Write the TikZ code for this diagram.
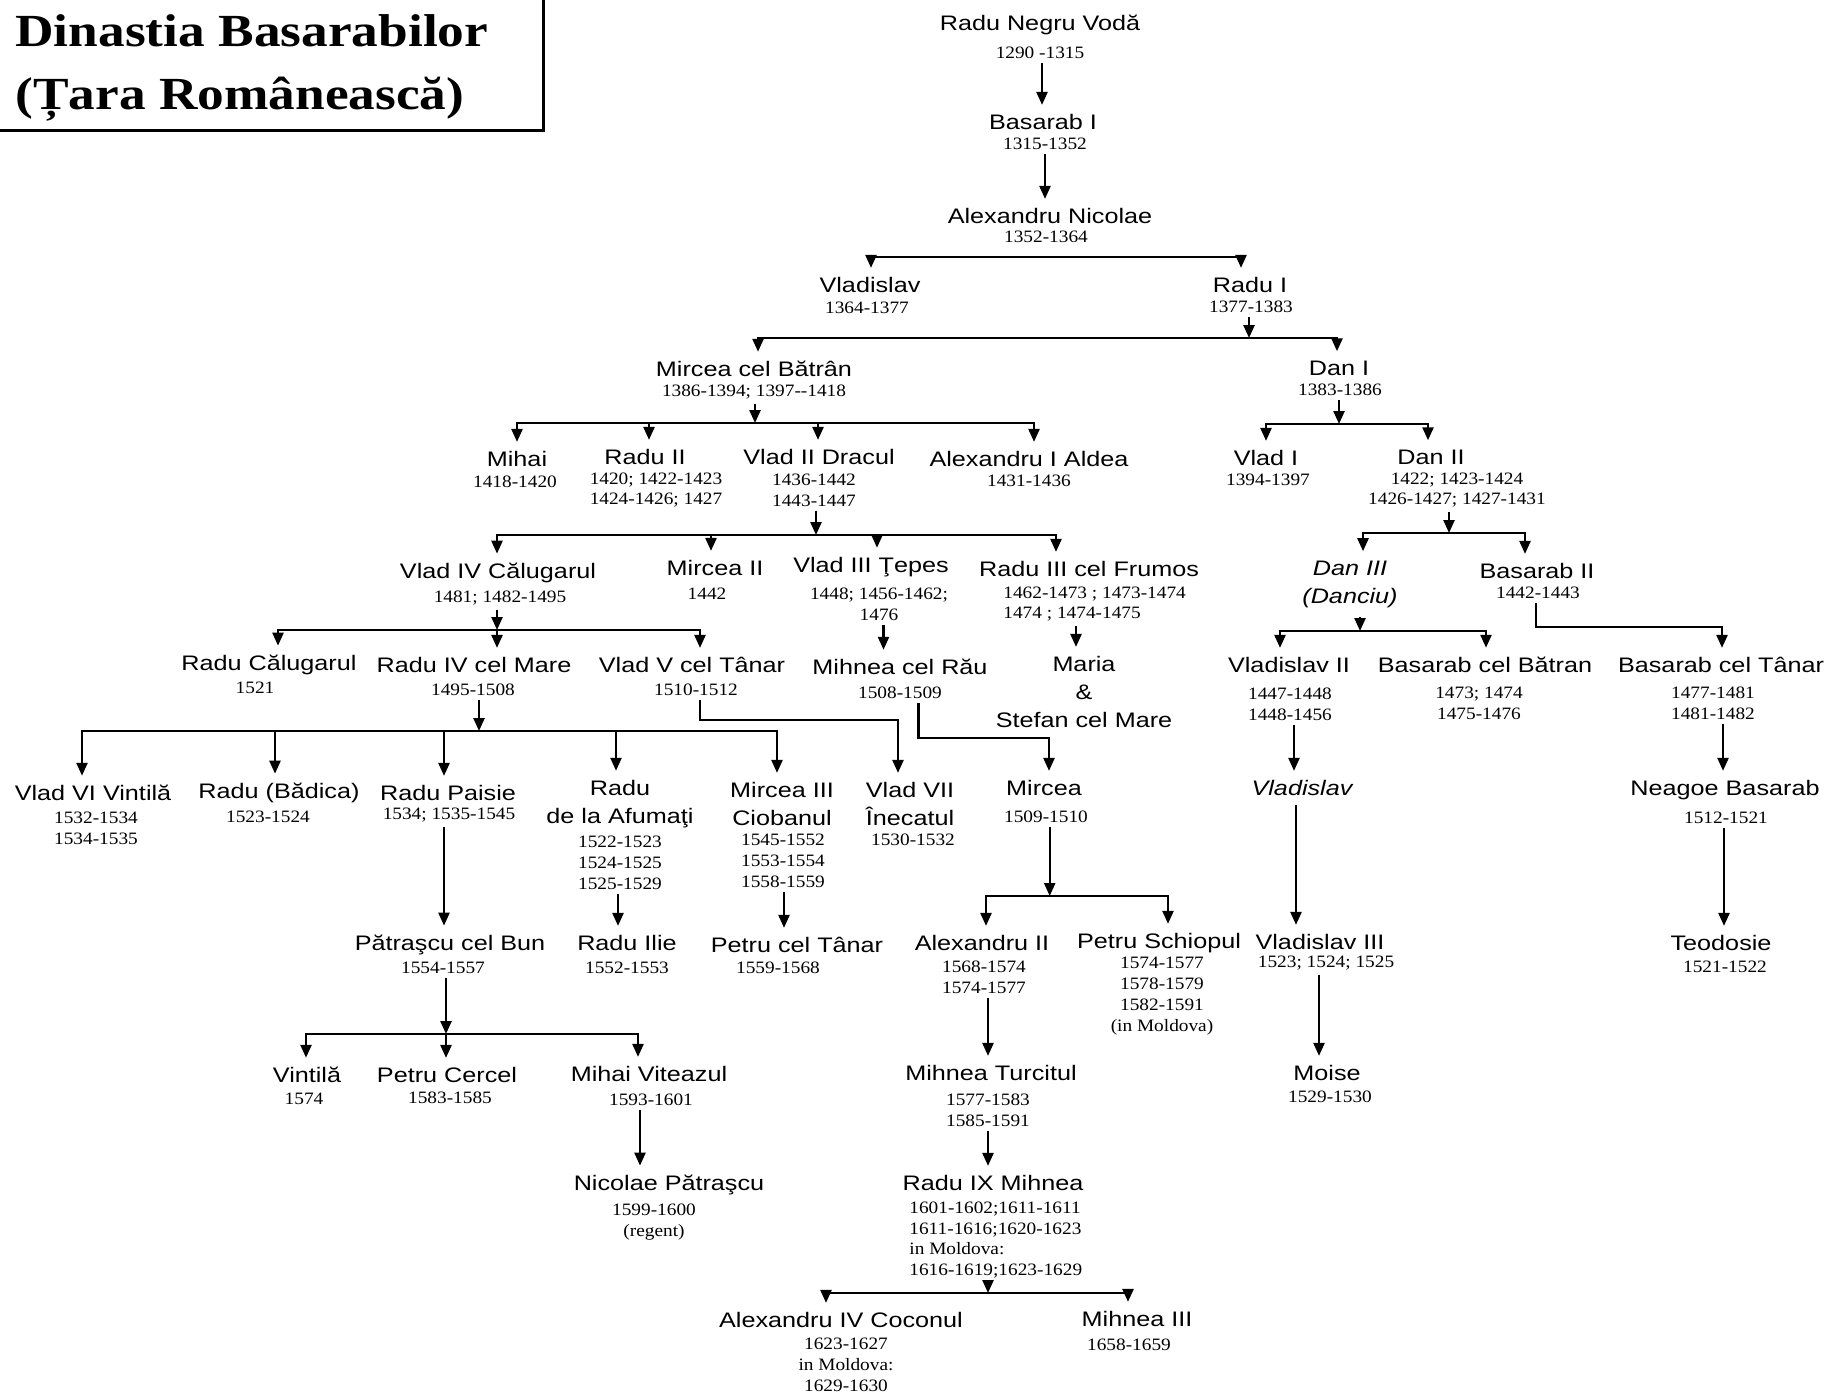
\documentclass[tikz,border=0pt]{standalone}
\usepackage{fontspec}
\usetikzlibrary{arrows.meta}
\newfontfamily\rsNmFam[FakeStretch=1.2]{Liberation Sans}
\newfontfamily\rsDtFam[FakeStretch=1.11]{Liberation Serif}
\newfontfamily\rsTtFam[FakeStretch=1.16]{Liberation Serif}
\newcommand\rsNm{\rsNmFam\fontsize{10.5}{14}\selectfont}
\newcommand\rsDt{\rsDtFam\fontsize{8.7}{10.4}\selectfont}
\newcommand\rsTt{\rsTtFam\bfseries\fontsize{23}{27}\selectfont}
\begin{document}
\begin{tikzpicture}[x=0.5pt,y=-0.5pt,
  nm/.style={font=\rsNm, inner xsep=1pt, inner ysep=4.5pt, align=center},
  nmi/.style={font=\rsNm\itshape, inner xsep=1pt, inner ysep=4.5pt, align=center},
  dt/.style={font=\rsDt, inner xsep=1pt, inner ysep=2pt, align=center},
  ttl/.style={font=\rsTt, inner sep=0pt, anchor=base west},
  ln/.style={line width=1.2pt, line cap=rect},
  ar/.style={line width=1.2pt, -{Triangle[length=6.5pt,width=5.5pt]}}]
\useasboundingbox (0,0) rectangle (1830,1393);
\fill[white] (0,0) rectangle (1830,1393);
\clip (0,0) rectangle (1830,1393);

% title
\draw[line width=1.5pt] (-10,-10) rectangle (543,130);
\node[ttl] (t1) at (15,46) {Dinastia Basarabilor};
\node[ttl] (t2) at (15,109) {(Țara Românească)};

% persons
\node[nm] (n1) at (1040,25) {Radu Negru Vodă};
\node[dt] (d1) at (1040,53) {1290 -1315};
\node[nm] (n2) at (1043,122) {Basarab I};
\node[dt] (d2) at (1045,144) {1315-1352};
\node[nm] (n3) at (1050,216) {Alexandru Nicolae};
\node[dt] (d3) at (1046,237) {1352-1364};
\node[nm] (n4) at (870,285) {Vladislav};
\node[dt] (d4) at (867,308) {1364-1377};
\node[nm] (n5) at (1250,285) {Radu I};
\node[dt] (d5) at (1251,307) {1377-1383};
\node[nm] (n6) at (754,369) {Mircea cel Bătrân};
\node[dt] (d6) at (754,392) {1386-1394; 1397-{}-1418};
\node[nm] (n7) at (1339,368) {Dan I};
\node[dt] (d7) at (1340,390) {1383-1386};
\node[nm] (n8) at (517,459) {Mihai};
\node[dt] (d8) at (515,482) {1418-1420};
\node[nm] (n9) at (645,457) {Radu II};
\node[dt] (d9) at (656,490) {1420; 1422-1423\\1424-1426; 1427};
\node[nm] (n10) at (819,457) {Vlad II Dracul};
\node[dt] (d10) at (814,490) {1436-1442\\1443-1447};
\node[nm] (n11) at (1029,459) {Alexandru I Aldea};
\node[dt] (d11) at (1029,481) {1431-1436};
\node[nm] (n12) at (1266,458) {Vlad I};
\node[dt] (d12) at (1268,480) {1394-1397};
\node[nm] (n13) at (1431,457) {Dan II};
\node[dt] (d13) at (1457,490) {1422; 1423-1424\\1426-1427; 1427-1431};

\node[nm] (n14) at (498,573) {Vlad IV Călugarul};
\node[dt] (d14) at (500,598) {1481; 1482-1495};
\node[nm] (n15) at (715,568) {Mircea II};
\node[dt] (d15) at (707,594) {1442};
\node[nm] (n16) at (871,567) {Vlad III Ţepes};
\node[dt] (d16) at (879,604) {1448; 1456-1462;\\1476};
\node[nm] (n17) at (1089,569) {Radu III cel Frumos};
\node[dt, anchor=west, align=left] (d17) at (1001,604) {1462-1473 ; 1473-1474\\1474 ; 1474-1475};
\node[nmi] (n18) at (1350,584) {Dan III\\(Danciu)};
\node[nm] (n19) at (1537,571) {Basarab II};
\node[dt] (d19) at (1538,593) {1442-1443};

\node[nm] (n20) at (269,665) {Radu Călugarul};
\node[dt] (d20) at (255,688) {1521};
\node[nm] (n21) at (474,665) {Radu IV cel Mare};
\node[dt] (d21) at (473,690) {1495-1508};
\node[nm] (n22) at (692,665) {Vlad V cel Tânar};
\node[dt] (d22) at (696,690) {1510-1512};
\node[nm] (n23) at (900,667) {Mihnea cel Rău};
\node[dt] (d23) at (900,693) {1508-1509};
\node[nm] (n24) at (1084,692) {Maria\\\&\\Stefan cel Mare};
\node[nm] (n25) at (1289,665) {Vladislav II};
\node[dt] (d25) at (1290,704) {1447-1448\\1448-1456};
\node[nm] (n26) at (1485,665) {Basarab cel Bătran};
\node[dt] (d26) at (1479,703) {1473; 1474\\1475-1476};
\node[nm] (n27) at (1721,665) {Basarab cel Tânar};
\node[dt] (d27) at (1713,703) {1477-1481\\1481-1482};

\node[nm] (n28) at (93,793) {Vlad VI Vintilă};
\node[dt] (d28) at (96,828) {1532-1534\\1534-1535};
\node[nm] (n29) at (279,793) {Radu (Bădica)};
\node[dt] (d29) at (268,817) {1523-1524};
\node[nm] (n30) at (448,793) {Radu Paisie};
\node[dt] (d30) at (449,815) {1534; 1535-1545};
\node[nm] (n31) at (620,804) {Radu\\de la Afumaţi};
\node[dt] (d31) at (620,863) {1522-1523\\1524-1525\\1525-1529};
\node[nm] (n32) at (782,804) {Mircea III\\Ciobanul};
\node[dt] (d32) at (783,861) {1545-1552\\1553-1554\\1558-1559};
\node[nm] (n33) at (910,804) {Vlad VII\\Înecatul};
\node[dt] (d33) at (913,840) {1530-1532};
\node[nm] (n34) at (1044,788) {Mircea};
\node[dt] (d34) at (1046,817) {1509-1510};
\node[nmi] (n35) at (1302,788) {Vladislav};
\node[nm] (n36) at (1725,790) {Neagoe Basarab};
\node[dt] (d36) at (1726,818) {1512-1521};

\node[nm] (n37) at (450,945) {Pătraşcu cel Bun};
\node[dt] (d37) at (443,968) {1554-1557};
\node[nm] (n38) at (627,943) {Radu Ilie};
\node[dt] (d38) at (627,968) {1552-1553};
\node[nm] (n39) at (797,945) {Petru cel Tânar};
\node[dt] (d39) at (778,968) {1559-1568};
\node[nm] (n40) at (982,943) {Alexandru II};
\node[dt] (d40) at (984,977) {1568-1574\\1574-1577};
\node[nm] (n41) at (1159,943) {Petru Schiopul};
\node[dt] (d41) at (1162,996) {1574-1577\\1578-1579\\1582-1591\\(in Moldova)};
\node[nm] (n42) at (1320,942) {Vladislav III};
\node[dt] (d42) at (1326,963) {1523; 1524; 1525};
\node[nm] (n43) at (1721,943) {Teodosie};
\node[dt] (d43) at (1725,967) {1521-1522};

\node[nm] (n44) at (307,1075) {Vintilă};
\node[dt] (d44) at (304,1099) {1574};
\node[nm] (n45) at (447,1075) {Petru Cercel};
\node[dt] (d45) at (450,1098) {1583-1585};
\node[nm] (n46) at (649,1074) {Mihai Viteazul};
\node[dt] (d46) at (651,1100) {1593-1601};
\node[nm] (n47) at (991,1073) {Mihnea Turcitul};
\node[dt] (d47) at (988,1110) {1577-1583\\1585-1591};
\node[nm] (n48) at (1327,1073) {Moise};
\node[dt] (d48) at (1330,1097) {1529-1530};
\node[nm] (n49) at (669,1185) {Nicolae Pătraşcu};
\node[dt] (d49) at (654,1222) {1599-1600\\(regent)};
\node[nm] (n50) at (993,1183) {Radu IX Mihnea};
\node[dt, anchor=west, align=left] (d50) at (907,1240) {1601-1602;1611-1611\\1611-1616;1620-1623\\in Moldova:\\1616-1619;1623-1629};
\node[nm] (n51) at (841,1320) {Alexandru IV Coconul};
\node[dt] (d51) at (846,1365) {1623-1627\\in Moldova:\\1629-1630};
\node[nm] (n52) at (1137,1319) {Mihnea III};
\node[dt] (d52) at (1129,1345) {1658-1659};

% junction coordinates
\coordinate (a1) at (1042,0);
\coordinate (a2) at (1045,0);
\coordinate (j4) at (871,257);  \coordinate (j5) at (1241,257);
\coordinate (p5) at (1249,338); \coordinate (j6) at (758,338); \coordinate (j7) at (1337,338);
\coordinate (p6) at (755,423);  \coordinate (j8) at (517,423); \coordinate (j9) at (649,423);
\coordinate (j10) at (818,423); \coordinate (j11) at (1034,423);
\coordinate (p7) at (1339,424); \coordinate (j12) at (1266,424); \coordinate (j13) at (1428,424);
\coordinate (p10) at (816,535); \coordinate (j14) at (497,535); \coordinate (j15) at (711,535);
\coordinate (j16) at (877,535); \coordinate (j17) at (1056,535);
\coordinate (p13) at (1449,533); \coordinate (j18) at (1363,533); \coordinate (j19) at (1525,533);
\coordinate (p14) at (497,630); \coordinate (j20) at (278,630); \coordinate (j22) at (700,630);
\coordinate (a16) at (883.5,0); \coordinate (a17) at (1076,0);
\coordinate (p18) at (1360,631); \coordinate (j25) at (1280,631); \coordinate (j26) at (1486,631);
\coordinate (e19a) at (1536,627); \coordinate (e19b) at (1722,627);
\coordinate (p21) at (479,731); \coordinate (j28) at (82,731); \coordinate (j29) at (275,731);
\coordinate (j30) at (444,731); \coordinate (j31) at (616,731); \coordinate (j32) at (777,731);
\coordinate (e22a) at (700,720); \coordinate (e22b) at (898,720);
\coordinate (e23a) at (918.6,738); \coordinate (e23b) at (1049,738);
\coordinate (a25) at (1294,0); \coordinate (a35) at (1296,0);
\coordinate (a27) at (1723,0); \coordinate (a36) at (1724,0);
\coordinate (a30) at (444,0); \coordinate (a31) at (618,0); \coordinate (a32) at (784,0);
\coordinate (p34) at (1049.7,896); \coordinate (j40) at (986,896); \coordinate (j41) at (1168,896);
\coordinate (p37) at (446,1034); \coordinate (j44) at (306,1034); \coordinate (j46) at (638,1034);
\coordinate (a40) at (988,0); \coordinate (a42) at (1319,0); \coordinate (a46) at (640,0);
\coordinate (a47) at (988,0);
\coordinate (p50) at (988,1293); \coordinate (j51) at (826,1293); \coordinate (j52) at (1128,1293);

% connectors
\draw[ar] (d1.south -| a1) -- (a1 |- n2.north);
\draw[ar] (d2.south -| a2) -- (a2 |- n3.north);

\draw[ln] (j4) -- (j5);
\draw[ar] (j4) -- (j4 |- n4.north);
\draw[ar] (j5) -- (j5 |- n5.north);

\draw[ar] (d5.south -| p5) -- (p5);
\draw[ln] (j6) -- (j7);
\draw[ar] (j6) -- (j6 |- n6.north);
\draw[ar] (j7) -- (j7 |- n7.north);

\draw[ar] (d6.south -| p6) -- (p6);
\draw[ln] (j8) -- (j11);
\draw[ar] (j8) -- (j8 |- n8.north);
\draw[ar] (j9) -- (j9 |- n9.north);
\draw[ar] (j10) -- (j10 |- n10.north);
\draw[ar] (j11) -- (j11 |- n11.north);

\draw[ar] (d7.south -| p7) -- (p7);
\draw[ln] (j12) -- (j13);
\draw[ar] (j12) -- (j12 |- n12.north);
\draw[ar] (j13) -- (j13 |- n13.north);

\draw[ar] (d10.south -| p10) -- (p10);
\draw[ln] (j14) -- (j17);
\draw[ar] (j14) -- (j14 |- n14.north);
\draw[ar] (j15) -- (j15 |- n15.north);
\draw[ar] (j16) -- (j16 |- n16.north);
\draw[ar] (j17) -- (j17 |- n17.north);

\draw[ar] (d13.south -| p13) -- (p13);
\draw[ln] (j18) -- (j19);
\draw[ar] (j18) -- (j18 |- n18.north);
\draw[ar] (j19) -- (j19 |- n19.north);

\draw[ar] (d14.south -| p14) -- (p14);
\draw[ln] (j20) -- (j22);
\draw[ar] (j20) -- (j20 |- n20.north);
\draw[ar] (p14) -- (p14 |- n21.north);
\draw[ar] (j22) -- (j22 |- n22.north);

\draw[ar] (d16.south -| a16) -- (a16 |- n23.north);
\draw[ar] (d17.south -| a17) -- (a17 |- n24.north);

\draw[ar] (n18.south -| p18) -- (p18);
\draw[ln] (j25) -- (j26);
\draw[ar] (j25) -- (j25 |- n25.north);
\draw[ar] (j26) -- (j26 |- n26.north);

\draw[ar] (d19.south -| e19a) -- (e19a) -- (e19b) -- (e19b |- n27.north);

\draw[ar] (d21.south -| p21) -- (p21);
\draw[ln] (j28) -- (j32);
\draw[ar] (j28) -- (j28 |- n28.north);
\draw[ar] (j29) -- (j29 |- n29.north);
\draw[ar] (j30) -- (j30 |- n30.north);
\draw[ar] (j31) -- (j31 |- n31.north);
\draw[ar] (j32) -- (j32 |- n32.north);

\draw[ar] (d22.south -| e22a) -- (e22a) -- (e22b) -- (e22b |- n33.north);
\draw[ar] (d23.south -| e23a) -- (e23a) -- (e23b) -- (e23b |- n34.north);

\draw[ar] (d25.south -| a25) -- (a25 |- n35.north);
\draw[ar] (n35.south -| a35) -- (a35 |- n42.north);
\draw[ar] (d27.south -| a27) -- (a27 |- n36.north);
\draw[ar] (d36.south -| a36) -- (a36 |- n43.north);

\draw[ar] (d30.south -| a30) -- (a30 |- n37.north);
\draw[ar] (d31.south -| a31) -- (a31 |- n38.north);
\draw[ar] (d32.south -| a32) -- (a32 |- n39.north);

\draw[ar] (d34.south -| p34) -- (p34);
\draw[ln] (j40) -- (j41);
\draw[ar] (j40) -- (j40 |- n40.north);
\draw[ar] (j41) -- (j41 |- n41.north);

\draw[ar] (d37.south -| p37) -- (p37);
\draw[ln] (j44) -- (j46);
\draw[ar] (j44) -- (j44 |- n44.north);
\draw[ar] (p37) -- (p37 |- n45.north);
\draw[ar] (j46) -- (j46 |- n46.north);

\draw[ar] (d40.south -| a40) -- (a40 |- n47.north);
\draw[ar] (d42.south -| a42) -- (a42 |- n48.north);
\draw[ar] (d46.south -| a46) -- (a46 |- n49.north);
\draw[ar] (d47.south -| a47) -- (a47 |- n50.north);

\draw[ar] (d50.south -| p50) -- (p50);
\draw[ln] (j51) -- (j52);
\draw[ar] (j51) -- (j51 |- n51.north);
\draw[ar] (j52) -- (j52 |- n52.north);
\end{tikzpicture}
\end{document}
